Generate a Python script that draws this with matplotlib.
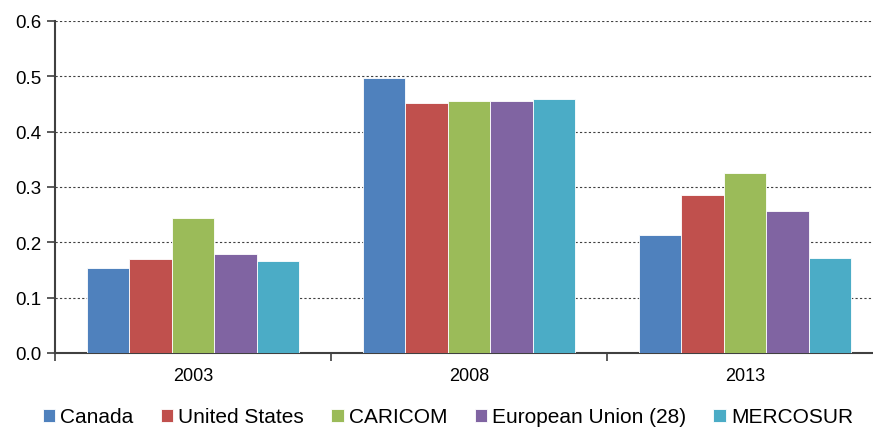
import numpy as np
import matplotlib.pyplot as plt

plt.rcParams['font.family'] = ['Liberation Sans', 'DejaVu Sans']

years = ['2003', '2008', '2013']
series = ['Canada', 'United States', 'CARICOM', 'European Union (28)', 'MERCOSUR']
canada = [0.154, 0.497, 0.213]
united_states = [0.170, 0.452, 0.286]
caricom = [0.244, 0.455, 0.325]
eu28 = [0.179, 0.455, 0.257]
mercosur = [0.166, 0.459, 0.172]
colors = ['#4F81BD', '#C0504D', '#9BBB59', '#8064A2', '#4BACC6']

values = [canada, united_states, caricom, eu28, mercosur]

fig = plt.figure(figsize=(8.73, 4.31), dpi=100)
ax = fig.add_axes([55 / 873, 1 - 354 / 431, 828 / 873, 332 / 431])

x = np.arange(len(years))
w = 0.1536
for i, (name, vals) in enumerate(zip(series, values)):
    ax.bar(x + (i - 2) * w, vals, w, color=colors[i], edgecolor='white',
           linewidth=0.6, label=name, zorder=3)

ax.set_xlim(-0.5, 2.5)
ax.set_ylim(0, 0.6)
ax.set_yticks(np.arange(0, 0.61, 0.1))
ax.set_yticklabels(['%.1f' % v for v in np.arange(0, 0.61, 0.1)], fontsize=13.5)
ax.yaxis.grid(True, linestyle=(0, (2, 2)), color='#404040', linewidth=0.8, zorder=0)

ax.set_xticks([-0.5, 0.5, 1.5, 2.5])
ax.set_xticklabels([])
ax.set_xticks(x, minor=True)
ax.set_xticklabels(years, minor=True, fontsize=13)
ax.tick_params(axis='x', which='minor', length=0, pad=10)
ax.tick_params(axis='x', which='major', length=6, direction='out', color='#404040', width=1.2)
ax.tick_params(axis='y', length=6, direction='out', color='#404040', width=1.2, pad=4)

for s in ['top', 'right']:
    ax.spines[s].set_visible(False)
for s in ['left', 'bottom']:
    ax.spines[s].set_color('#404040')
    ax.spines[s].set_linewidth(1.5)

fig.legend(loc='center', bbox_to_anchor=(448 / 873, 1 - 418 / 431), ncol=5,
           frameon=False, fontsize=15, handlelength=0.6, handleheight=0.6,
           handletextpad=0.25, columnspacing=1.3)

fig.savefig('out.png', dpi=100)
